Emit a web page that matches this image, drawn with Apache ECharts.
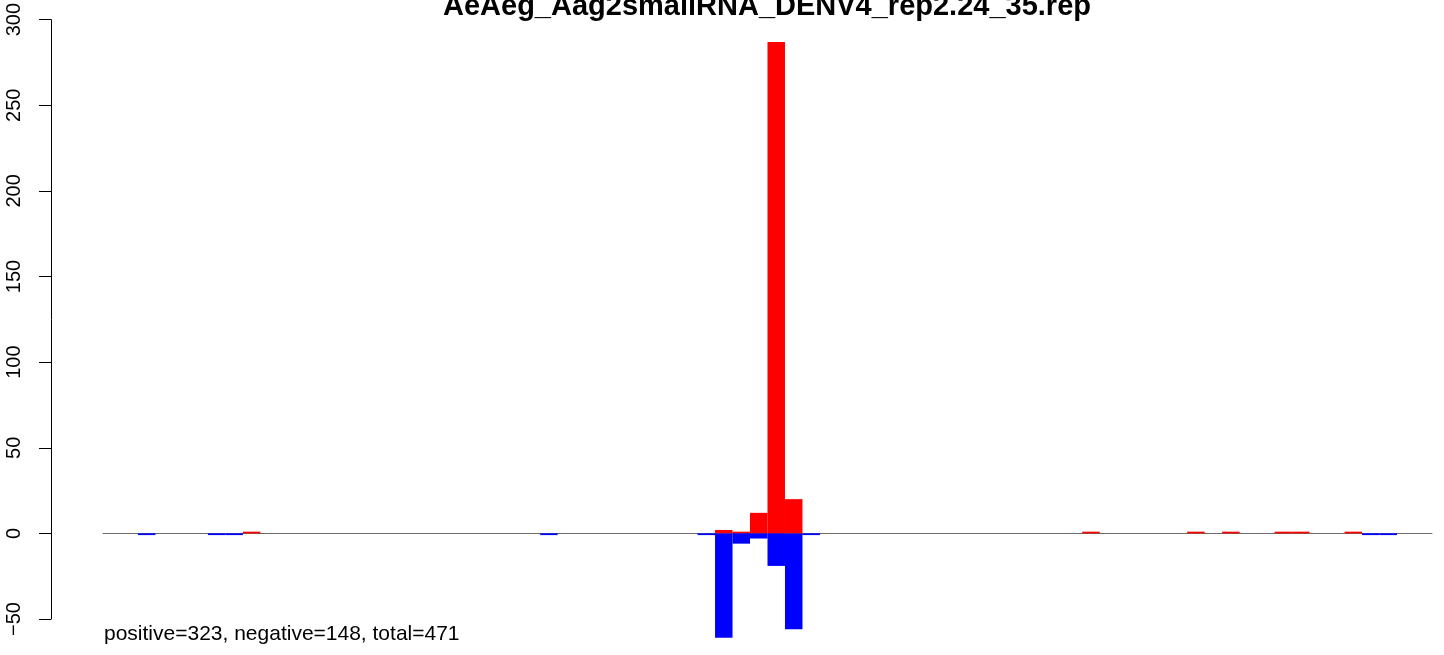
<!DOCTYPE html>
<html>
<head>
<meta charset="utf-8">
<script src="https://cdn.jsdelivr.net/npm/echarts@6/dist/echarts.min.js"></script>
<style>html,body{margin:0;padding:0;background:#fff;}#c{width:1444px;height:655px;}</style>
</head>
<body>
<div id="c"></div>
<script>
// bins -2 .. 73
const bins = [];
for (let b = -2; b <= 73; b++) bins.push(String(b));
const positiveBins = [6, 33, 34, 35, 36, 37, 54, 60, 62, 65, 66, 69];
const positiveVals = [1, 2, 1, 12, 287, 20, 1, 1, 1, 1, 1, 1];
const negativeBins = [0, 4, 5, 23, 32, 33, 34, 35, 36, 37, 38, 70, 71];
const negativeVals = [-1, -1, -1, -1, -1, -61, -6, -3, -19, -56, -1, -1, -1];
const yTicks = [-50, 0, 50, 100, 150, 200, 250, 300];
const titleText = 'AeAeg_Aag2smallRNA_DENV4_rep2.24_35.rep';
const footText = 'positive=323, negative=148, total=471';

const posData = bins.map(() => null);
positiveBins.forEach((b, i) => { posData[b + 2] = positiveVals[i]; });
const negData = bins.map(() => null);
negativeBins.forEach((b, i) => { negData[b + 2] = negativeVals[i]; });

const chart = echarts.init(document.getElementById('c'), null, {renderer: 'canvas'});
const font = '"Liberation Sans", Arial, sans-serif';
chart.setOption({
  animation: false,
  backgroundColor: '#ffffff',
  graphic: [
    {
      type: 'text', x: 767, y: 7,
      style: {text: titleText, fontFamily: font, fontWeight: 'bold', fontSize: 29, fill: '#000',
        align: 'center', verticalAlign: 'middle'}
    },
    {
      type: 'text', x: 104, y: 634,
      style: {text: footText, fontFamily: font, fontSize: 21, fill: '#000',
        align: 'left', verticalAlign: 'middle'}
    }
  ],
  grid: {left: 103, right: 12, top: 19, bottom: 36, containLabel: false},
  xAxis: {
    type: 'category', data: bins, boundaryGap: true,
    axisLine: {show: true, onZero: true, lineStyle: {color: '#6b6b6b', width: 1}},
    axisTick: {show: false}, axisLabel: {show: false}, splitLine: {show: false}
  },
  yAxis: {
    type: 'value', min: yTicks[0], max: yTicks[yTicks.length - 1], interval: 50,
    offset: 52,
    axisLine: {show: true, lineStyle: {color: '#000', width: 1}},
    axisTick: {show: true, length: 12, lineStyle: {color: '#000', width: 1}},
    axisLabel: {show: true, rotate: 90, margin: 27, fontFamily: font, fontSize: 20, color: '#000',
      formatter: v => String(v).replace('-', '\u2212')},
    splitLine: {show: false}
  },
  series: [
    {type: 'bar', data: posData, barWidth: '100%', barGap: '-100%', clip: false, itemStyle: {color: '#ff0000'}},
    {type: 'bar', data: negData, barWidth: '100%', barGap: '-100%', clip: false, itemStyle: {color: '#0000ff'}}
  ]
});
</script>
</body>
</html>
